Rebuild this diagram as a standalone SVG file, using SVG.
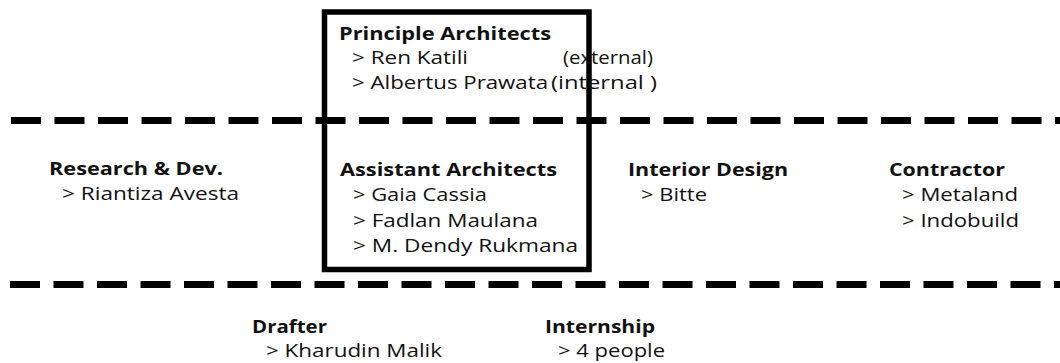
<svg xmlns="http://www.w3.org/2000/svg" width="1060" height="363" viewBox="0 0 1060 363">
<style>
text { font-family: "Open Sans", "DejaVu Sans", sans-serif; font-size: 17.5px; fill: #111; }
.h { font-weight: 700; }
.sep { stroke: #000; stroke-width: 7; stroke-dasharray: 30 13.5; fill: none; }
.frame { stroke: #000; stroke-width: 5.5; fill: none; }
</style>
<rect width="1060" height="363" fill="#fff"/>
<g id="separators">
<line class="sep" x1="11" y1="120.5" x2="1060" y2="120.5"/>
<line class="sep" x1="10" y1="284.5" x2="1060" y2="284.5"/>
</g>
<g id="core-frame">
<rect class="frame" x="324.5" y="12" width="264.5" height="257.5"/>
</g>
<g id="principle-architects">
<text class="h" x="339" y="40" textLength="212" lengthAdjust="spacingAndGlyphs">Principle Architects</text>
<text x="352" y="64" textLength="116" lengthAdjust="spacingAndGlyphs">&gt; Ren Katili</text>
<text x="563" y="64" textLength="90" lengthAdjust="spacingAndGlyphs">(external)</text>
<text x="352" y="89" textLength="196" lengthAdjust="spacingAndGlyphs">&gt; Albertus Prawata</text>
<text x="551" y="89" textLength="106" lengthAdjust="spacingAndGlyphs">(internal )</text>
</g>
<g id="assistant-architects">
<text class="h" x="340" y="176" textLength="217" lengthAdjust="spacingAndGlyphs">Assistant Architects</text>
<text x="353" y="201" textLength="134" lengthAdjust="spacingAndGlyphs">&gt; Gaia Cassia</text>
<text x="353" y="227" textLength="185" lengthAdjust="spacingAndGlyphs">&gt; Fadlan Maulana</text>
<text x="353" y="252" textLength="225" lengthAdjust="spacingAndGlyphs">&gt; M. Dendy Rukmana</text>
</g>
<g id="research-dev">
<text class="h" x="49" y="175" textLength="174" lengthAdjust="spacingAndGlyphs">Research &amp; Dev.</text>
<text x="62" y="200" textLength="177" lengthAdjust="spacingAndGlyphs">&gt; Riantiza Avesta</text>
</g>
<g id="interior-design">
<text class="h" x="628" y="176" textLength="160" lengthAdjust="spacingAndGlyphs">Interior Design</text>
<text x="641" y="201" textLength="66" lengthAdjust="spacingAndGlyphs">&gt; Bitte</text>
</g>
<g id="contractor">
<text class="h" x="889" y="176" textLength="116" lengthAdjust="spacingAndGlyphs">Contractor</text>
<text x="902" y="201" textLength="116" lengthAdjust="spacingAndGlyphs">&gt; Metaland</text>
<text x="902" y="227" textLength="117" lengthAdjust="spacingAndGlyphs">&gt; Indobuild</text>
</g>
<g id="drafter">
<text class="h" x="252" y="333" textLength="75" lengthAdjust="spacingAndGlyphs">Drafter</text>
<text x="266" y="357" textLength="176" lengthAdjust="spacingAndGlyphs">&gt; Kharudin Malik</text>
</g>
<g id="internship">
<text class="h" x="545" y="333" textLength="110" lengthAdjust="spacingAndGlyphs">Internship</text>
<text x="558" y="357" textLength="107" lengthAdjust="spacingAndGlyphs">&gt; 4 people</text>
</g>
</svg>
